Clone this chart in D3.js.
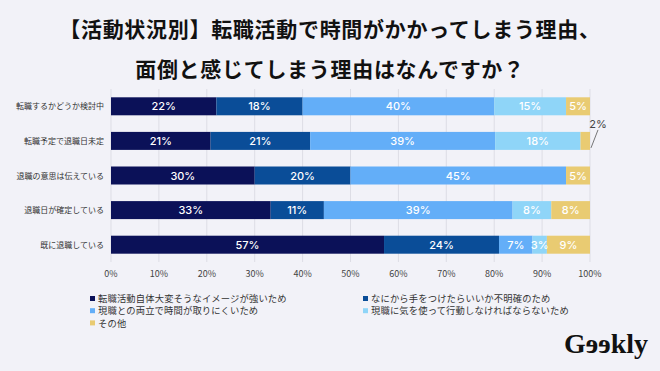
<!DOCTYPE html>
<html>
<head>
<meta charset="utf-8">
<script src="https://cdn.jsdelivr.net/npm/d3@7"></script>
<style>
  body { margin: 0; background: #f2f2f8; }
  svg { display: block; font-family: "Noto Sans CJK JP", "Noto Sans", sans-serif; }
</style>
</head>
<body>
<script>
// chart data
var statuses = ["転職するかどうか検討中", "転職予定で退職日未定", "退職の意思は伝えている", "退職日が確定している", "既に退職している"];
var reasons = ["転職活動自体大変そうなイメージが強いため", "なにから手をつけたらいいか不明確のため", "現職との両立で時間が取りにくいため", "現職に気を使って行動しなければならないため", "その他"];
var values = [
    [22, 18, 40, 15, 5],
    [21, 21, 39, 18, 2],
    [30, 20, 45, 0, 5],
    [33, 11, 39, 8, 8],
    [57, 24, 7, 3, 9]
];
var ticks = [0, 10, 20, 30, 40, 50, 60, 70, 80, 90, 100];

var w = 660, h = 371;
var colors = ["#0b1158", "#0a4d98", "#63aef8", "#8fd5f8", "#e9cb72"];

var svg = d3.select("body").append("svg")
    .attr("width", w)
    .attr("height", h);

svg.append("rect").attr("width", w).attr("height", h).attr("fill", "#f2f2f8");

// title
svg.selectAll(".title")
    .data(["【活動状況別】転職活動で時間がかかってしまう理由、", "面倒と感じてしまう理由はなんですか？"])
    .enter()
    .append("text")
    .attr("x", w / 2)
    .attr("y", function(d, i) { return 37 + i * 40; })
    .attr("text-anchor", "middle")
    .attr("font-size", 21)
    .attr("letter-spacing", 0.7)
    .attr("font-weight", "bold")
    .attr("fill", "#111")
    .text(function(d) { return d; });

var x = d3.scaleLinear().domain([0, 100]).range([111, 590]);
var y = d3.scaleBand().domain(statuses).range([89, 262]).paddingInner(0.48).paddingOuter(0.24);

// gridlines
svg.append("g")
    .selectAll("line")
    .data(ticks)
    .enter()
    .append("line")
    .attr("x1", function(d) { return x(d); })
    .attr("x2", function(d) { return x(d); })
    .attr("y1", 89)
    .attr("y2", 262)
    .attr("stroke", "#dddde5")
    .attr("stroke-width", 1);

// tick labels
svg.append("g")
    .selectAll("text")
    .data(ticks)
    .enter()
    .append("text")
    .attr("x", function(d) { return x(d); })
    .attr("y", 277)
    .attr("text-anchor", "middle")
    .attr("font-size", 9)
    .attr("fill", "#444")
    .text(function(d) { return d + "%"; });

// category labels
svg.append("g")
    .selectAll("text")
    .data(statuses)
    .enter()
    .append("text")
    .attr("x", 104)
    .attr("y", function(d) { return y(d) + y.bandwidth() / 2 + 3; })
    .attr("text-anchor", "end")
    .attr("font-size", 8)
    .attr("fill", "#333")
    .text(function(d) { return d; });

// stacked segments, each row normalised to its own total
var segs = [];
values.forEach(function(row, i) {
    var total = d3.sum(row), acc = 0;
    row.forEach(function(v, j) {
        if (v > 0) {
            segs.push({ row: statuses[i], k: j, v: v, x0: acc / total * 100, x1: (acc + v) / total * 100 });
        }
        acc += v;
    });
});

svg.append("g")
    .selectAll("rect")
    .data(segs)
    .enter()
    .append("rect")
    .attr("x", function(d) { return x(d.x0); })
    .attr("width", function(d) { return x(d.x1) - x(d.x0); })
    .attr("y", function(d) { return y(d.row); })
    .attr("height", y.bandwidth())
    .attr("fill", function(d) { return colors[d.k]; });

// value labels
svg.append("g")
    .selectAll("text")
    .data(segs.filter(function(d) { return d.v >= 3; }))
    .enter()
    .append("text")
    .attr("x", function(d) { return (x(d.x0) + x(d.x1)) / 2; })
    .attr("y", function(d) { return y(d.row) + y.bandwidth() / 2 + 4; })
    .attr("text-anchor", "middle")
    .attr("font-family", "Inter, 'Noto Sans', sans-serif")
    .attr("font-size", 11)
    .attr("font-weight", 500)
    .attr("fill", "#fff")
    .text(function(d) { return d.v + "%"; });

// small segment label with leader line
segs.filter(function(d) { return d.v < 3; }).forEach(function(d) {
    var cy = y(d.row);
    svg.append("line")
        .attr("x1", x(d.x1) + 1).attr("y1", cy + y.bandwidth() - 2)
        .attr("x2", x(d.x1) + 8).attr("y2", cy - 2)
        .attr("stroke", "#555").attr("stroke-width", 0.8);
    svg.append("text")
        .attr("x", x(d.x1) + 8)
        .attr("y", cy - 4)
        .attr("text-anchor", "middle")
        .attr("font-family", "Inter, 'Noto Sans', sans-serif")
        .attr("font-size", 11)
        .attr("fill", "#444")
        .text(d.v + "%");
});

// legend in two columns
var legend = svg.append("g")
    .selectAll("g")
    .data(reasons)
    .enter()
    .append("g")
    .attr("transform", function(d, i) {
        return "translate(" + (i % 2 === 0 ? 90 : 363) + "," + (299 + Math.floor(i / 2) * 12.2) + ")";
    });

legend.append("rect")
    .attr("x", 0).attr("y", -3)
    .attr("width", 5).attr("height", 5)
    .attr("fill", function(d, i) { return colors[i]; });

legend.append("text")
    .attr("x", 8)
    .attr("y", 3.2)
    .attr("font-size", 9.3)
    .attr("letter-spacing", 0.15)
    .attr("fill", "#333")
    .text(function(d) { return d; });

// logo
svg.append("text")
    .attr("x", 648)
    .attr("y", 353)
    .attr("text-anchor", "end")
    .attr("font-family", "'Liberation Serif', 'DejaVu Serif', serif")
    .attr("font-weight", "bold")
    .attr("font-size", 28)
    .attr("fill", "#111")
    .text("Gɘɘkly");
</script>
</body>
</html>
